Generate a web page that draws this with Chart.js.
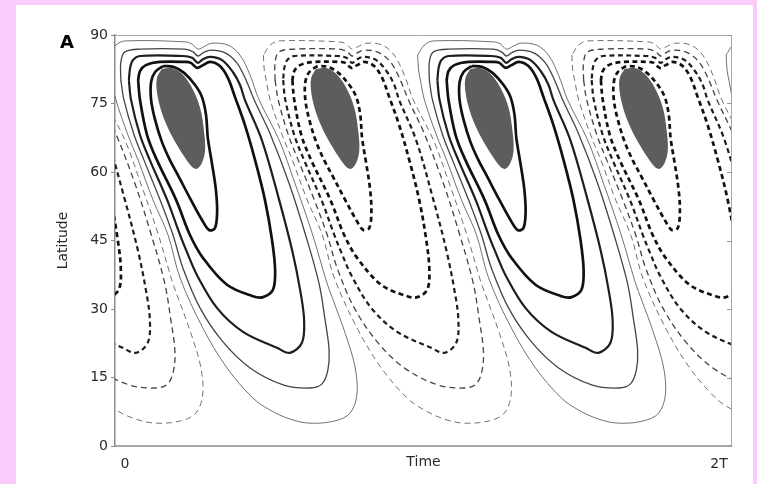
<!DOCTYPE html>
<html>
<head>
<meta charset="utf-8">
<script src="https://cdn.jsdelivr.net/npm/chart.js@4.4.1/dist/chart.umd.min.js"></script>
<style>
  html, body { margin: 0; padding: 0; width: 757px; height: 484px; overflow: hidden; background: #fbccfb; }
  #panel { position: absolute; left: 16px; top: 5px; width: 737px; height: 479px; background: #ffffff; }
  canvas { display: block; }
</style>
</head>
<body>
<div id="panel"><canvas id="c" width="737" height="479"></canvas></div>
<script>
// One cycle of the field, as [time in units of T, latitude in degrees].
// Levels run from the innermost (strongest) contour outwards.
const level1 = [[0.156,83.2],[0.130,81.9],[0.117,79.7],[0.117,75.8],[0.130,71.4],[0.152,66.6],[0.178,62.6],[0.204,59.3],[0.246,53.9],[0.282,49.5],[0.305,47.3],[0.324,47.7],[0.331,51.2],[0.327,56.1],[0.314,62.0],[0.301,67.4],[0.295,72.5],[0.282,76.4],[0.259,79.1],[0.224,81.7],[0.191,83.0]];
const level2 = [[0.075,80.1],[0.081,75.8],[0.104,68.1],[0.136,62.6],[0.198,53.9],[0.243,46.2],[0.285,41.2],[0.363,35.3],[0.447,32.8],[0.480,32.6],[0.512,34.2],[0.519,38.5],[0.509,45.1],[0.486,53.9],[0.454,62.6],[0.421,70.3],[0.389,76.4],[0.366,80.6],[0.340,83.2],[0.308,84.1],[0.285,83.4],[0.266,82.8],[0.246,83.9],[0.227,84.1],[0.146,84.1],[0.100,83.4],[0.081,82.1]];
const level3 = [[0.045,80.1],[0.052,75.8],[0.081,68.1],[0.113,62.6],[0.169,53.9],[0.211,46.2],[0.233,42.5],[0.266,37.4],[0.331,30.2],[0.415,25.0],[0.525,21.5],[0.567,20.4],[0.606,22.6],[0.613,27.6],[0.600,34.2],[0.574,42.9],[0.532,53.9],[0.476,67.0],[0.421,75.8],[0.405,79.1],[0.382,81.9],[0.347,84.5],[0.308,85.2],[0.285,84.7],[0.269,83.9],[0.250,85.0],[0.220,85.4],[0.081,85.4],[0.058,84.5],[0.049,82.8]];
const level4 = [[0.019,80.1],[0.029,75.8],[0.062,68.1],[0.094,62.6],[0.146,53.9],[0.188,46.2],[0.220,39.0],[0.276,30.2],[0.350,22.8],[0.438,17.1],[0.545,13.4],[0.632,12.7],[0.671,13.6],[0.690,16.6],[0.694,21.0],[0.681,27.6],[0.661,35.7],[0.616,46.6],[0.564,57.6],[0.502,68.5],[0.451,75.8],[0.425,80.1],[0.395,83.9],[0.357,86.1],[0.311,86.7],[0.285,86.1],[0.269,85.4],[0.253,86.3],[0.227,86.9],[0.081,86.9],[0.032,86.3],[0.019,84.1]];
const level5 = [[-0.019,85.6],[-0.016,82.3],[-0.010,80.1],[0.003,75.8],[0.042,68.1],[0.075,62.6],[0.123,53.9],[0.172,46.2],[0.211,36.8],[0.285,25.8],[0.363,17.1],[0.447,10.5],[0.502,7.9],[0.567,5.9],[0.632,5.0],[0.713,5.5],[0.762,7.2],[0.784,11.2],[0.778,17.3],[0.746,24.7],[0.707,32.0],[0.687,35.7],[0.639,46.6],[0.583,57.6],[0.532,67.0],[0.467,75.8],[0.438,81.2],[0.405,85.6],[0.366,87.8],[0.314,88.2],[0.292,87.6],[0.269,86.9],[0.250,88.0],[0.227,88.5],[0.032,88.7],[0.003,87.8]];
// Shaded core region inside the innermost contour.
const coreRegion = [[0.152,82.6],[0.185,82.8],[0.217,81.5],[0.250,78.4],[0.276,74.0],[0.288,69.2],[0.292,64.8],[0.282,62.0],[0.266,60.7],[0.250,61.1],[0.227,63.1],[0.201,65.9],[0.172,69.6],[0.149,73.6],[0.136,77.5],[0.136,80.6]];

// Half-cycle phases (in T) of the wave and the sign of the field in each.
const cellPhases = [-0.5, 0, 0.5, 1, 1.5, 2];
const cellSigns = [-1, 1, -1, 1, -1, 1];

const latitudeTicks = [0, 15, 30, 45, 60, 75, 90];
const timeTicks = [0, 2];
const timeTickLabels = ['0', '2T'];

// Line styles per level (innermost first).
const levels = [level1, level2, level3, level4, level5];
const levelWidths = [2.7, 2.7, 2.2, 1.3, 1.0];
const levelColors = ['#111111', '#111111', '#1e1e1e', '#444444', '#707070'];

const closeLoop = (pts, shift) => pts.concat([pts[0]]).map(([t, lat]) => ({ x: t + shift, y: lat }));

const datasets = [];
cellPhases.forEach((phase, k) => {
  const negative = cellSigns[k] < 0;
  levels.forEach((pts, i) => {
    datasets.push({
      data: closeLoop(pts, phase),
      showLine: true,
      borderColor: levelColors[i],
      borderWidth: levelWidths[i],
      borderDash: negative ? (i < 3 ? [5, 3.5] : [6, 4]) : [],
      borderJoinStyle: 'round',
      pointRadius: 0,
      tension: 0.35,
      fill: false,
      clip: 0,
      order: 0
    });
  });
  datasets.push({
    data: closeLoop(coreRegion, phase),
    showLine: true,
    borderWidth: 0,
    borderColor: 'rgba(0,0,0,0)',
    backgroundColor: '#5d5d5d',
    fill: 'shape',
    pointRadius: 0,
    tension: 0.35,
    clip: 0,
    order: 1
  });
});

const FONT = "'DejaVu Sans', 'Liberation Sans', Arial, sans-serif";

const frameAndLabels = {
  id: 'frameAndLabels',
  afterDatasetsDraw(chart) {
    const { ctx, chartArea: a, scales: { y } } = chart;
    ctx.save();
    // top and right frame
    ctx.strokeStyle = '#a8a8a8';
    ctx.lineWidth = 1;
    ctx.beginPath();
    ctx.moveTo(a.left, a.top + 0.5);
    ctx.lineTo(a.right - 0.5, a.top + 0.5);
    ctx.lineTo(a.right - 0.5, a.bottom);
    ctx.stroke();
    // bottom axis
    ctx.strokeStyle = '#8c8c8c';
    ctx.lineWidth = 1.5;
    ctx.beginPath();
    ctx.moveTo(a.left, a.bottom);
    ctx.lineTo(a.right, a.bottom);
    ctx.stroke();
    // inner ticks on the right edge
    ctx.strokeStyle = '#999999';
    ctx.lineWidth = 1;
    latitudeTicks.forEach(v => {
      const py = Math.round(y.getPixelForValue(v)) + 0.5;
      ctx.beginPath();
      ctx.moveTo(a.right - 5, py);
      ctx.lineTo(a.right, py);
      ctx.stroke();
    });
    ctx.restore();
  },
  afterDraw(chart) {
    const { ctx, chartArea: a, scales: { x } } = chart;
    ctx.save();
    ctx.fillStyle = '#2a2a2a';
    ctx.textBaseline = 'middle';
    ctx.textAlign = 'center';
    ctx.font = '14px ' + FONT;
    const nudge = [10, -13];
    timeTicks.forEach((v, i) => {
      ctx.fillText(timeTickLabels[i], x.getPixelForValue(v) + nudge[i], a.bottom + 18);
    });
    ctx.fillText('Time', (a.left + a.right) / 2, a.bottom + 16);
    // axis title
    ctx.save();
    ctx.translate(a.left - 52, (a.top + a.bottom) / 2);
    ctx.rotate(-Math.PI / 2);
    ctx.fillText('Latitude', 0, 0);
    ctx.restore();
    // panel letter
    ctx.fillStyle = '#000000';
    ctx.font = 'bold 18px ' + FONT;
    ctx.fillText('A', a.left - 48, a.top + 8);
    ctx.restore();
  }
};

new Chart(document.getElementById('c'), {
  type: 'scatter',
  data: { datasets },
  options: {
    responsive: false,
    animation: false,
    devicePixelRatio: 1,
    layout: { padding: { left: 0, top: 30, right: 21, bottom: 38 } },
    plugins: { legend: { display: false }, tooltip: { enabled: false } },
    scales: {
      x: { type: 'linear', min: 0, max: 2, display: false },
      y: {
        type: 'linear', min: 0, max: 90,
        afterFit: s => { s.width = 99; },
        afterBuildTicks: s => { s.ticks = latitudeTicks.map(v => ({ value: v })); },
        ticks: { color: '#2a2a2a', font: { family: FONT, size: 14 }, padding: 3 },
        grid: { drawOnChartArea: false, drawTicks: true, tickLength: 4, color: '#8c8c8c' },
        border: { display: true, color: '#8c8c8c', width: 1.5 }
      }
    }
  },
  plugins: [frameAndLabels]
});
</script>
</body>
</html>
